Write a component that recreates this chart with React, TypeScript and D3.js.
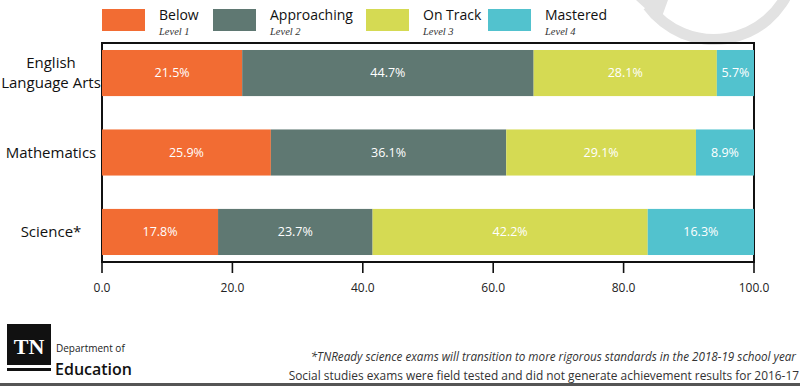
import { useEffect, useRef } from "react";
import * as d3 from "d3";

const categories = ["English Language Arts", "Mathematics", "Science*"];
const categoryLines = [["English", "Language Arts"], ["Mathematics"], ["Science*"]];
const levelNames = ["Below", "Approaching", "On Track", "Mastered"];
const levelSubs = ["Level 1", "Level 2", "Level 3", "Level 4"];
const below = [21.5, 25.9, 17.8];
const approaching = [44.7, 36.1, 23.7];
const onTrack = [28.1, 29.1, 42.2];
const mastered = [5.7, 8.9, 16.3];
const xTicks = [0, 20, 40, 60, 80, 100];

const colors = ["#f26c33", "#5f7872", "#d5da53", "#52c2ce"];
const FONT = "'Open Sans', sans-serif";

const App = () => {
  const svgRef = useRef<SVGSVGElement>(null);

  useEffect(() => {
    if (!svgRef.current) return;
    const svg = d3.select(svgRef.current);
    svg.selectAll("*").remove();

    const width = 800;
    const height = 386;
    const left = 102;
    const right = 754;
    const top = 43;
    const bottom = 262;

    svg.attr("viewBox", `0 0 ${width} ${height}`);
    svg.append("rect").attr("width", width).attr("height", height).attr("fill", "#fff");

    // faint watermark arc in the background
    const arc = d3.arc()({
      innerRadius: 76,
      outerRadius: 87,
      startAngle: Math.PI * 0.6,
      endAngle: Math.PI * 1.3,
    } as any);
    svg
      .append("path")
      .attr("d", arc)
      .attr("transform", "translate(714,-42)")
      .attr("fill", "#e2e2e2");
    svg
      .append("path")
      .attr("d", "M636,0 L660,22 L668,0 Z")
      .attr("fill", "#e2e2e2");

    const x = d3.scaleLinear().domain([0, 100]).range([left, right]);
    const y = d3
      .scaleBand()
      .domain(categories)
      .range([top, bottom])
      .paddingInner(0.42)
      .paddingOuter(0.088);

    const series = [below, approaching, onTrack, mastered];
    const rows = categories.map((c, i) => {
      let acc = 0;
      return series.map((s, k) => {
        const seg = { cat: c, k, x0: acc, x1: acc + s[i], v: s[i] };
        acc += s[i];
        return seg;
      });
    });
    const segs = rows.flat();

    // frame
    svg
      .append("rect")
      .attr("x", left)
      .attr("y", top)
      .attr("width", right - left)
      .attr("height", bottom - top)
      .attr("fill", "none")
      .attr("stroke", "#111")
      .attr("stroke-width", 2);

    svg
      .selectAll("rect.seg")
      .data(segs)
      .join("rect")
      .attr("class", "seg")
      .attr("x", (d) => x(d.x0))
      .attr("y", (d) => y(d.cat)!)
      .attr("width", (d) => x(d.x1) - x(d.x0))
      .attr("height", y.bandwidth())
      .attr("fill", (d) => colors[d.k]);

    svg
      .selectAll("text.value")
      .data(segs)
      .join("text")
      .attr("class", "value")
      .attr("x", (d) => (x(d.x0) + x(d.x1)) / 2)
      .attr("y", (d) => y(d.cat)! + y.bandwidth() / 2)
      .attr("dy", "0.35em")
      .attr("text-anchor", "middle")
      .attr("fill", "#fff")
      .attr("font-family", FONT)
      .attr("font-size", "12.5px")
      .text((d) => `${d.v.toFixed(1)}%`);

    // x axis
    const axis = svg.append("g").attr("transform", `translate(0,${bottom})`);
    axis
      .append("line")
      .attr("x1", left)
      .attr("x2", right)
      .attr("stroke", "#111")
      .attr("stroke-width", 2);
    axis
      .selectAll("line.tick")
      .data(xTicks)
      .join("line")
      .attr("class", "tick")
      .attr("x1", (d) => x(d))
      .attr("x2", (d) => x(d))
      .attr("y1", 0)
      .attr("y2", 11)
      .attr("stroke", "#111")
      .attr("stroke-width", 1.6);
    axis
      .selectAll("text")
      .data(xTicks)
      .join("text")
      .attr("x", (d) => x(d))
      .attr("y", 30)
      .attr("text-anchor", "middle")
      .attr("font-family", FONT)
      .attr("font-size", "12px")
      .attr("fill", "#222")
      .text((d) => d.toFixed(1));

    // category labels
    categories.forEach((c, i) => {
      const lines = categoryLines[i];
      const cy = y(c)! + y.bandwidth() / 2;
      svg
        .append("text")
        .attr("x", 51)
        .attr("y", cy - ((lines.length - 1) * 20) / 2)
        .attr("text-anchor", "middle")
        .attr("font-family", FONT)
        .attr("font-size", "15px")
        .attr("fill", "#111")
        .selectAll("tspan")
        .data(lines)
        .join("tspan")
        .attr("x", 51)
        .attr("dy", (_, j) => (j === 0 ? "0.35em" : "20"))
        .text((d) => d);
    });

    // legend
    const legendX = [102, 213, 366, 488];
    const legend = svg
      .selectAll("g.leg")
      .data(levelNames)
      .join("g")
      .attr("class", "leg")
      .attr("transform", (_, i) => `translate(${legendX[i]},9)`);
    legend
      .append("rect")
      .attr("width", 43)
      .attr("height", 22)
      .attr("fill", (_, i) => colors[i]);
    legend
      .append("text")
      .attr("x", 57)
      .attr("y", 10.5)
      .attr("font-family", FONT)
      .attr("font-size", "14px")
      .attr("fill", "#111")
      .text((d) => d);
    legend
      .append("text")
      .attr("x", 57)
      .attr("y", 25.5)
      .attr("font-family", "'Liberation Serif', serif")
      .attr("font-style", "italic")
      .attr("font-size", "10.5px")
      .attr("fill", "#333")
      .text((_, i) => levelSubs[i]);

    // footer logo
    svg.append("rect").attr("x", 7).attr("y", 324).attr("width", 44).attr("height", 41).attr("fill", "#111");
    svg.append("rect").attr("x", 7).attr("y", 368).attr("width", 44).attr("height", 3).attr("fill", "#111");
    svg
      .append("text")
      .attr("x", 29)
      .attr("y", 354)
      .attr("text-anchor", "middle")
      .attr("font-family", "'Liberation Serif', serif")
      .attr("font-weight", "bold")
      .attr("font-size", "22px")
      .attr("fill", "#fff")
      .text("TN");
    svg
      .append("text")
      .attr("x", 56)
      .attr("y", 352)
      .attr("font-family", FONT)
      .attr("font-size", "10px")
      .attr("fill", "#222")
      .text("Department of");
    svg
      .append("text")
      .attr("x", 55)
      .attr("y", 375)
      .attr("font-family", FONT)
      .attr("font-weight", "600")
      .attr("font-size", "16px")
      .attr("fill", "#111")
      .text("Education");

    // footnotes
    svg
      .append("text")
      .attr("x", 796)
      .attr("y", 361)
      .attr("text-anchor", "end")
      .attr("font-family", FONT)
      .attr("font-style", "italic")
      .attr("font-size", "11.7px")
      .attr("fill", "#333")
      .text("*TNReady science exams will transition to more rigorous standards in the 2018-19 school year");
    svg
      .append("text")
      .attr("x", 799)
      .attr("y", 380)
      .attr("text-anchor", "end")
      .attr("font-family", FONT)
      .attr("font-size", "11.9px")
      .attr("fill", "#333")
      .text("Social studies exams were field tested and did not generate achievement results for 2016-17");

    svg.append("rect").attr("x", 0).attr("y", 383).attr("width", width).attr("height", 3).attr("fill", "#555");
  }, []);

  return (
    <div style={{ position: "absolute", left: 0, top: 0 }}>
      <svg ref={svgRef} width={800} height={386} style={{ display: "block" }} />
    </div>
  );
};

export default App;
